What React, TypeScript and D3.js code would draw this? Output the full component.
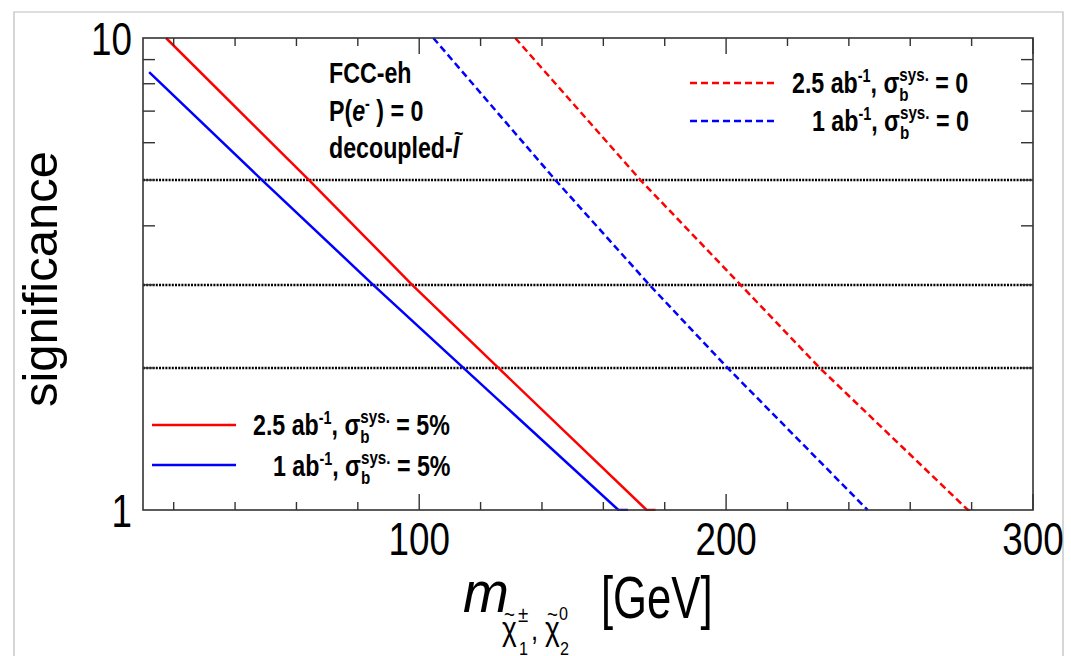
import React from 'react';
import * as d3 from 'd3';

// curves: mass [GeV] vs significance
const redSolidMass = [17.5, 64.1, 97.7, 125.8, 174.1, 177];
const redSolidSig = [10, 5, 3, 2, 1, 0.9];
const blueSolidMass = [12, 48.8, 85.0, 114.4, 164.9, 168];
const blueSolidSig = [8.47, 5, 3, 2, 1, 0.9];
const redDashMass = [131.3, 172.1, 204.7, 230.5, 278.8, 280.7];
const redDashSig = [10, 5, 3, 2, 1, 0.9];
const blueDashMass = [104.6, 144.4, 175.0, 200.5, 246.1];
const blueDashSig = [10, 5, 3, 2, 1];

const refLines = [2, 3, 5];
const xMajor = [100, 200, 300];
const xMinor = [20, 40, 60, 80, 120, 140, 160, 180, 220, 240, 260, 280];
const yMinor = [2, 3, 4, 5, 6, 7, 8, 9];
const yLabels = [1, 10];

const W = 1071;
const H = 656;
const FONT = '"Liberation Sans", Arial, Helvetica, sans-serif';

function NText({ x, y, size, sx = 0.8, anchor = 'start', weight = 'normal', style = 'normal', children }: any) {
  return (
    <g transform={`translate(${x},${y}) scale(${sx},1)`}>
      <text x={0} y={0} fontSize={size} textAnchor={anchor} fontWeight={weight} fontStyle={style} fontFamily={FONT} fill="#000">
        {children}
      </text>
    </g>
  );
}

function LegendLabel({ x, y, lumi, syst }: any) {
  return (
    <NText x={x} y={y} size={29} weight="bold">
      <tspan>{lumi} ab</tspan>
      <tspan dy={-11} fontSize={18}>-1</tspan>
      <tspan dy={11}>, σ</tspan>
      <tspan dy={8} fontSize={19}>b</tspan>
      <tspan dx={-11.6} dy={-20} fontSize={19}>sys.</tspan>
      <tspan dy={12}> = {syst}</tspan>
    </NText>
  );
}

export default function App() {
  const left = 143, right = 1033, top = 38, bottom = 510;
  const x = d3.scaleLinear().domain([10, 300]).range([left, right]);
  const y = d3.scaleLog().domain([1, 10]).range([bottom, top]).clamp(true);

  const line = d3
    .line<[number, number]>()
    .x((d) => x(d[0]))
    .y((d) => y(d[1]));
  const path = (ms: number[], ss: number[]) => line(ms.map((m, i) => [m, ss[i]]) as [number, number][]) || '';

  const axisColor = '#333';
  return (
    <svg width={W} height={H} style={{ position: 'absolute', left: 0, top: 0, background: '#fff' }}>
      {/* slide frame */}
      <path d={`M14,${H} V12 H1063 V${H}`} fill="none" stroke="#bbb" strokeWidth={1.2} />

      {/* reference lines */}
      {refLines.map((s) => (
        <line
          key={s}
          x1={left}
          x2={right}
          y1={Math.round(y(s))}
          y2={Math.round(y(s))}
          stroke="#000"
          strokeWidth={2.5}
          strokeDasharray="2,1.2"
        />
      ))}

      <defs>
        <clipPath id="plot">
          <rect x={left} y={top - 1} width={right - left} height={bottom - top + 2} />
        </clipPath>
      </defs>
      <g clipPath="url(#plot)" fill="none" strokeWidth={2.5}>
        <path d={path(redSolidMass, redSolidSig)} stroke="#ff0000" />
        <path d={path(blueSolidMass, blueSolidSig)} stroke="#0000ff" />
        <path d={path(redDashMass, redDashSig)} stroke="#ff0000" strokeDasharray="7,4" />
        <path d={path(blueDashMass, blueDashSig)} stroke="#0000ff" strokeDasharray="7,4" />
      </g>

      {/* frame and ticks */}
      <rect x={left} y={top} width={right - left} height={bottom - top} fill="none" stroke={axisColor} strokeWidth={1.6} />
      <g stroke={axisColor} strokeWidth={1.4}>
        {xMinor.map((v) => (
          <g key={v}>
            <line x1={x(v)} x2={x(v)} y1={bottom} y2={bottom - 8} />
            <line x1={x(v)} x2={x(v)} y1={top} y2={top + 8} />
          </g>
        ))}
        {xMajor.map((v) => (
          <g key={v}>
            <line x1={x(v)} x2={x(v)} y1={bottom} y2={bottom - 16} />
            <line x1={x(v)} x2={x(v)} y1={top} y2={top + 16} />
          </g>
        ))}
        {yMinor.map((v) => (
          <g key={v}>
            <line x1={left} x2={left + 12} y1={y(v)} y2={y(v)} />
            <line x1={right} x2={right - 12} y1={y(v)} y2={y(v)} />
          </g>
        ))}
      </g>

      {/* tick labels */}
      {xMajor.map((v) => (
        <NText key={v} x={x(v)} y={555} size={46} anchor="middle">
          {v}
        </NText>
      ))}
      {yLabels.map((v) => (
        <NText key={v} x={132} y={y(v) + 17} size={46} anchor="end">
          {v}
        </NText>
      ))}

      {/* axis titles */}
      <text
        transform="translate(57,279) rotate(-90)"
        textAnchor="middle"
        fontSize={49}
        fontFamily={FONT}
        fill="#000"
      >
        significance
      </text>
      <NText x={463} y={612} size={58} sx={0.95} style="italic">m</NText>
      <NText x={502} y={640} size={33} sx={0.85}>χ</NText>
      <NText x={504} y={622} size={22} sx={0.85}>~</NText>
      <NText x={519} y={655} size={19} sx={0.85}>1</NText>
      <NText x={518} y={622} size={22} sx={0.85}>±</NText>
      <NText x={531} y={640} size={30} sx={0.85}>,</NText>
      <NText x={545} y={640} size={33} sx={0.85}>χ</NText>
      <NText x={547} y={622} size={22} sx={0.85}>~</NText>
      <NText x={560} y={655} size={19} sx={0.85}>2</NText>
      <NText x={559} y={620} size={19} sx={0.85}>0</NText>
      <NText x={601} y={618} size={59} sx={0.74}>[GeV]</NText>

      {/* annotation */}
      <NText x={329} y={83} size={29} weight="bold">FCC-eh</NText>
      <NText x={329} y={121} size={29} weight="bold">
        <tspan>P(</tspan>
        <tspan fontStyle="italic">e</tspan>
        <tspan dy={-11} fontSize={18}>-</tspan>
        <tspan dy={11}> ) = 0</tspan>
      </NText>
      <NText x={329} y={158} size={29} weight="bold">
        <tspan>decoupled-</tspan>
        <tspan fontStyle="italic">l</tspan>
      </NText>
      <NText x={454} y={140} size={20} weight="bold">~</NText>

      {/* legend top right */}
      <line x1={690} x2={774} y1={83} y2={83} stroke="#ff0000" strokeWidth={2.5} strokeDasharray="7,4" />
      <line x1={690} x2={774} y1={121} y2={121} stroke="#0000ff" strokeWidth={2.5} strokeDasharray="7,4" />
      <LegendLabel x={792} y={93} lumi="2.5" syst="0" />
      <LegendLabel x={812} y={131} lumi="1" syst="0" />

      {/* legend bottom left */}
      <line x1={152} x2={236} y1={425} y2={425} stroke="#ff0000" strokeWidth={2.5} />
      <line x1={152} x2={236} y1={465} y2={465} stroke="#0000ff" strokeWidth={2.5} />
      <LegendLabel x={253} y={435} lumi="2.5" syst="5%" />
      <LegendLabel x={273} y={476} lumi="1" syst="5%" />
    </svg>
  );
}
